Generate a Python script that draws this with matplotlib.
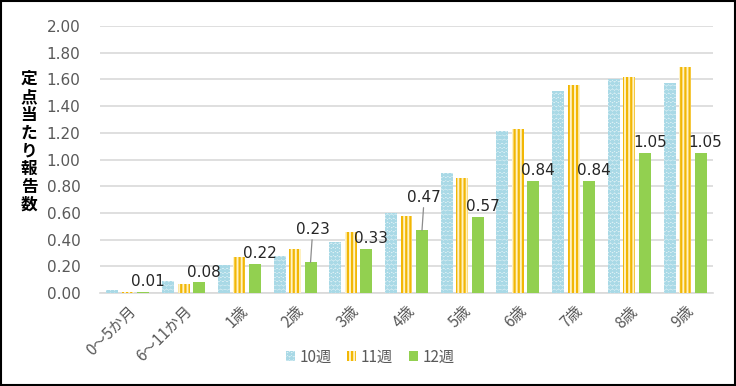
import matplotlib
matplotlib.use("Agg")
import matplotlib.pyplot as plt
import numpy as np
from matplotlib.patches import Rectangle

plt.rcParams['font.family'] = ['Noto Sans CJK JP', 'DejaVu Sans']
plt.rcParams['hatch.linewidth'] = 1.6

categories = ['0〜5か月', '6〜11か月', '1歳', '2歳', '3歳', '4歳', '5歳', '6歳', '7歳', '8歳', '9歳']
series_names = ['10週', '11週', '12週']
w10 = [0.02, 0.09, 0.21, 0.28, 0.38, 0.60, 0.90, 1.21, 1.51, 1.60, 1.57]
w11 = [0.01, 0.07, 0.27, 0.33, 0.46, 0.58, 0.86, 1.23, 1.56, 1.62, 1.69]
w12 = [0.01, 0.08, 0.22, 0.23, 0.33, 0.47, 0.57, 0.84, 0.84, 1.05, 1.05]
yticks = [0.0, 0.2, 0.4, 0.6, 0.8, 1.0, 1.2, 1.4, 1.6, 1.8, 2.0]
ylabel = '定点当たり報告数'

fig = plt.figure(figsize=(7.36, 3.86), dpi=100)
ax = fig.add_axes([100/736, 1-293/386, 613/736, 267/386])

x = np.arange(len(categories))
bw = 0.215
step = 0.278
gray = '#595959'

b1 = ax.bar(x - step, w10, bw, facecolor='#DDF0F5', edgecolor='#A9D9E6', hatch='oooo', linewidth=0, label=series_names[0], zorder=3)
b2 = ax.bar(x, w11, bw, facecolor='#FFF2C4', edgecolor='#F2B705', hatch='||||', linewidth=0, label=series_names[1], zorder=3)
b3 = ax.bar(x + step, w12, bw, color='#92D050', linewidth=0, label=series_names[2], zorder=3)

# data labels for 12週
for i, v in enumerate(w12):
    xi = x[i] + step
    if i in (3, 5):
        ax.annotate(f'{v:.2f}', xy=(xi, v), xytext=(xi + 0.04, v + 0.19),
                    ha='center', va='bottom', fontsize=11, color='#262626',
                    family=['DejaVu Sans'],
                    arrowprops=dict(arrowstyle='-', color='#8C8C8C', lw=0.9, shrinkA=0, shrinkB=0),
                    zorder=5)
    else:
        ax.annotate(f'{v:.2f}', xy=(xi, v), xytext=(3.5, 2), textcoords='offset points',
                    ha='center', va='bottom', fontsize=11, color='#262626',
                    family=['DejaVu Sans'], zorder=5)

ax.set_xlim(-0.5, len(categories) - 0.5)
ax.set_ylim(0, 2.0)
ax.set_yticks(yticks)
ax.set_yticklabels([f'{t:.2f}' for t in yticks], color=gray, fontsize=11, family=['DejaVu Sans'])
ax.set_xticks(x)
ax.set_xticklabels(categories, rotation=45, ha='right', va='top', rotation_mode='anchor',
                   color=gray, fontsize=11)
ax.tick_params(axis='y', length=0, pad=14)
ax.tick_params(axis='x', length=0, pad=7)
ax.yaxis.grid(True, color='#D9D9D9', linewidth=1.2, zorder=0)
ax.set_axisbelow(True)
for s in ['top', 'right', 'left']:
    ax.spines[s].set_visible(False)
ax.spines['bottom'].set_color('#D9D9D9')
ax.spines['bottom'].set_linewidth(1.2)

fig.text(29/736, 1 - 142/386, '\n'.join(ylabel), ha='center', va='center',
         fontsize=12, fontweight='bold', linespacing=1.0, color='black')

fig.legend(handles=[b1, b2, b3], labels=series_names, loc='center', bbox_to_anchor=(0.503, 1 - 357/386),
           ncol=3, frameon=False, fontsize=11, labelcolor=gray, handlelength=0.6, handleheight=0.6,
           handletextpad=0.3, columnspacing=1.0)

fig.patches.append(Rectangle((0.001, 0.002), 0.997, 0.995, transform=fig.transFigure,
                             fill=False, edgecolor='black', linewidth=1.5))

fig.savefig('out.png', dpi=100)
